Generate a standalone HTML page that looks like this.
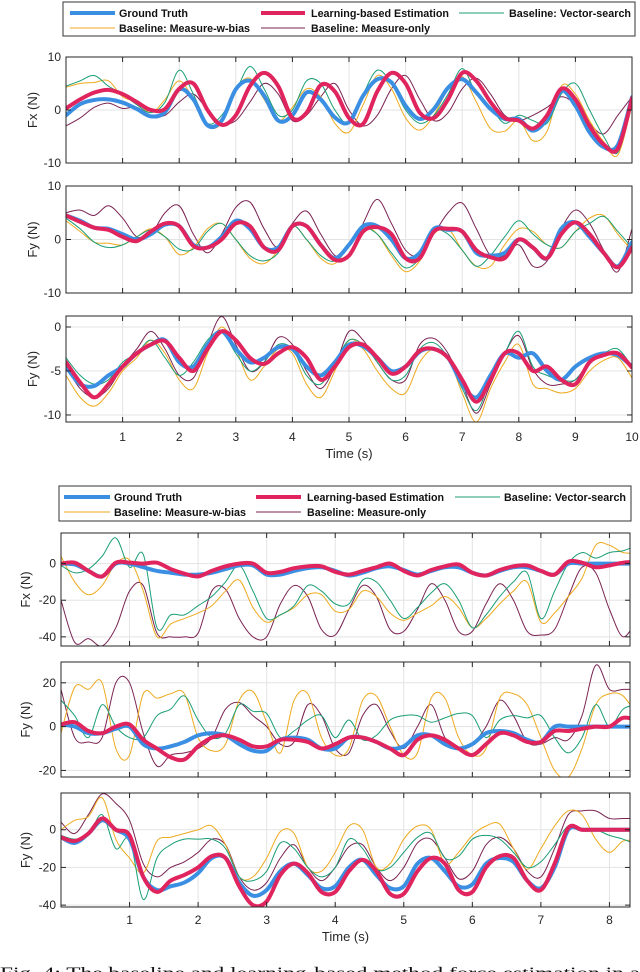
<!DOCTYPE html>
<html><head><meta charset="utf-8"><style>
html,body{margin:0;padding:0;background:#fff;}
svg{display:block;}
text{font-family:"Liberation Sans",sans-serif;}
</style></head><body>
<svg id="chart" width="640" height="972" viewBox="0 0 640 972" xmlns="http://www.w3.org/2000/svg"></svg>
<script>
// ---------- DATA ----------
const topDt = 0.25;
const botDt = 0.2;
const topXTicks = [1,2,3,4,5,6,7,8,9,10];
const botXTicks = [1,2,3,4,5,6,7,8];
const fx1Ticks = [-10,0,10];
const fy1Ticks = [-10,0,10];
const fz1Ticks = [-10,-5,0];
const fx2Ticks = [-40,-20,0];
const fy2Ticks = [-20,0,20];
const fz2Ticks = [-40,-20,0];
const seriesNames = ["Ground Truth","Learning-based Estimation","Baseline: Vector-search","Baseline: Measure-w-bias","Baseline: Measure-only"];

// Top figure, panel 1 (Fx)
const p1Truth = [-1,1.1,1.9,2.0,1.4,0.2,-1.2,-0.4,3.9,2,-2.9,-2,3.9,5.5,2.7,-2,-1,3.3,2,-1.4,-2.3,2.7,5.8,5.2,0.8,-1.7,0.2,4.2,5.8,3.3,0.2,-1.7,-1.7,-3.9,-1.7,3.6,0.8,-4.2,-7,-6.6,2.4];
const p1Est = [0.3,2.0,3.3,3.8,3.0,1.5,0,0.2,4.0,5.0,0,-2.8,-1,4.5,7.0,4.5,-1.5,-0.5,4.7,3.5,-1.5,-2.6,3.5,7.0,5,-0.5,-1.5,2,7,5.5,1.5,-1.5,-2,-3.5,-1,4,2,-3,-6.5,-7.3,2.2];
const p1Vec = [4.5,5.5,6.5,4.5,3,1,-0.5,1.5,7.5,3,-2.5,-1,3.5,8.2,4,-1,0,5.5,5,0,-2.5,3,7.5,5,0,-2.5,-1,3,7.8,3,0.5,-2.5,-1,-2,-2.5,3,5,0,-5,-8,1.5];
const p1Bias = [4.3,5,5.2,5.5,2.5,1.5,-0.5,2,5.5,2,-3,-2.5,4,6,2,-2,0.5,4,2.5,-2.5,-4.2,1,6.5,4,-1.5,-3.8,-1,4,6.3,1.5,-3.5,-4,-2,-5.8,-4,4.5,3,-2,-6,-8.5,1];
const p1Meas = [-3,-1.5,0.5,1.3,0.3,0.5,-1,-1,1.5,3,0,-2.5,-2,1.5,5,3,-2,-1,2.5,5,0,-3,-1,4,6.5,2,-2,-0.5,4,6,3,-1,-2,-1,0.5,2.5,1,-2.5,-4.5,-1,2.5];

// Top figure, panel 2 (Fy)
const p2Truth = [4.5,3.5,2.2,2,1,0,1,2.8,2.5,-1,-1.5,0.5,3.5,2,-1.5,-1.5,2.5,2.5,-1,-3.5,-1,2.5,2.5,0,-3.5,-2.5,2,1.8,1.5,-2.5,-3,-2.5,0,-1.5,-3.5,2,3.2,0.5,-2.5,-5,-0.5];
const p2Est = [4.5,3.3,2.2,1.8,0.5,-0.3,1.5,3,2.5,-1.2,-1.5,0,3,2.5,-1.5,-2,2.5,2.5,-1,-3.8,-3,1.5,2.3,1,-3.5,-3.5,1.5,2,1.5,-2,-3.3,-3.5,0,-1.5,-3.5,1,3.2,1,-2.5,-5.2,-1.5];
const p2Vec = [4,2,-0.5,-1.5,-1,0.5,1.8,0.5,-1.8,-1.8,1.5,3,0,-3,-4,-2.5,2.5,0,-3,-4,-1,2,1,-2.5,-5.3,-3.5,1.5,1,-2,-5,-3,0.5,3.5,1,-1,-1.5,1.5,3,4.3,1.5,-1.5];
const p2Bias = [3.5,1.5,-0.5,-0.7,-1,0.5,2,0.5,-2.8,-1.5,2,3,0,-3.5,-4.5,-2,2.5,0,-3.5,-4.5,-1,2.5,1,-3,-6,-4,1,2,-2,-5,-5,-1,2,1.5,-1,-1.5,1.5,4,4.5,1,-2];
const p2Meas = [5,5.5,4.5,6.3,4,0.5,1,5,6.3,1,-2.5,1,6,7,2,-1.5,3,5.3,1,-3,-3,3,7.5,3,-2,-3,1,5,6.8,2,-3,-3,-1,-5,-4,2,5.5,3,-2,-6,2];

// Top figure, panel 3 (Fy, third)
const p3Truth = [-4.5,-6.5,-6.7,-5.5,-4.5,-3,-2,-1.5,-4,-4.5,-2,-0.5,-2.5,-4,-3.5,-2.3,-2.5,-4.5,-5.5,-4,-2,-2.2,-3.5,-5,-4.5,-2.8,-2.5,-3.5,-6.5,-8,-5.5,-3,-3.5,-3,-5,-6,-4.5,-3.5,-3,-3.2,-4.5];
const p3Est = [-4,-6.3,-8,-6.5,-4.5,-3,-2,-1.6,-3.5,-5,-2.5,-0.5,-1.5,-3.5,-4.2,-3,-2.3,-3.5,-6,-4.5,-2.3,-2,-3.5,-5.3,-4.5,-2.7,-2.5,-3.5,-6,-8.5,-6,-3,-3,-5,-4.5,-6,-6.5,-4,-3.2,-3,-4.6];
const p3Vec = [-3.5,-5.5,-6.5,-6,-4,-3,-1.5,-3.5,-5.5,-4,-1.5,-0.5,-3,-5,-4,-2,-2.5,-5.5,-6.5,-4,-1.5,-2,-4,-6,-5.5,-2.5,-1.8,-3.5,-7,-9.5,-6,-3,-0.5,-4.5,-5.5,-6,-6,-4,-3,-2.5,-4.5];
const p3Bias = [-5.5,-8,-9,-7.5,-5,-3.5,-1.5,-3,-6,-7,-3,0,-2.5,-6,-4.5,-2.5,-3,-6.5,-8,-5,-1.5,-2.5,-5,-7,-7.5,-4,-2.5,-3.5,-7.5,-10.8,-7,-4,-2,-6.5,-7,-7.5,-7,-5,-3.8,-3.5,-5.8];
const p3Meas = [-4.5,-7,-8,-7,-4.5,-2.5,-0.5,-2.5,-5.5,-5.8,-2,1.2,-2,-5,-4,-1.2,-2,-5,-7,-4.5,-0.5,-1.5,-4,-6,-6,-2,-1.3,-3,-6.5,-9.8,-6.5,-3,-1,-4.8,-6.5,-6.5,-6,-4,-3,-3,-4.5];

// Bottom figure, panel 4 (Fx)
const p4Truth = [0,-0.5,-4,-7,0,0,-2,-4,-5,-6,-6,-5,-3,-1,-1,-6,-6,-4,-2.5,-2,-4,-6.5,-5,-2.5,-1.5,-3.5,-6,-4,-2,-2,-5,-6.5,-4,-2,-2,-4,-6,0,0,0,0,0,0];
const p4Est = [0,0.5,-4,-7,0.5,0.5,0,0.5,-3,-5.5,-7,-4,-1.5,0,0,-5,-4.5,-2.5,-1.5,-1.5,-4.5,-6,-4,-2,0,-4,-6.5,-3.5,-1.5,-0.5,-5,-6.5,-3.5,-1.5,-1,-4,-6,1,0.5,-2,-1,0.5,1];
const p4Vec = [-1,-5,-3,4,14,-2,5,-35,-28,-28,-23,-18,-10,-1,-15,-30,-28,-23,-12,-15,-22,-22,-9,-10,-20,-30,-24,-16,-11,-20,-35,-28,-18,-10,-5,-30,-15,0,6,3,6,7,10];
const p4Bias = [4,-10,-17,-12,0,2,-15,-40,-33,-30,-27,-23,-15,-9,-24,-32,-28,-24,-17,-17,-26,-25,-15,-18,-27,-31,-27,-23,-18,-24,-35,-30,-22,-15,-10,-32,-27,-18,-8,10,10,6,6];
const p4Meas = [-20,-43,-41,-45,-35,-15,-12,-38,-40,-40,-38,-15,-14,-30,-40,-40,-22,-12,-18,-36,-39,-25,-12,-18,-36,-37,-25,-11,-20,-37,-37,-22,-11,-20,-37,-39,-36,-18,-2,-5,-25,-40,-30];

// Bottom figure, panel 5 (Fy)
const p5Truth = [1,0,-3,-3,-1,0,-8,-10,-9,-7,-4,-3,-4,-8,-11,-11,-6,-5,-6,-10,-10,-5,-5,-7,-10,-9,-4,-4,-8,-10,-8,-3,-2,-3,-6,-7,0,0,0,0,0,0,0];
const p5Est = [1,2,-2,-3,0,1,-6,-10,-14,-15,-9,-5,-4,-6,-9,-9,-6,-6,-7,-10,-8,-5,-5,-7,-10,-13,-6,-4,-6,-10,-13,-8,-3,-4,-7,-7,-2,-2,-1,0,0,4,3];
const p5Vec = [12,5,-5,10,0,-5,-5,5,8,14,3,-5,-3,10,7,6,-5,-2,3,5,-5,3,-6,-4,3,5,5,2,4,6,5,-5,3,5,4,5,-5,-12,-5,10,0,8,10];
const p5Bias = [-3,18,17,20,-10,-13,15,13,15,15,-5,-11,-8,12,16,2,-12,12,15,-5,-13,-10,12,14,0,-13,-12,13,13,-5,-13,-10,13,15,10,-5,-20,-23,-10,10,15,14,5];
const p5Meas = [17,-5,-7,-5,20,20,-3,-18,-13,-12,-10,-5,8,11,5,0,-8,-7,10,5,-10,-12,5,10,-2,-10,0,10,-5,-10,-8,0,12,5,-7,-8,-5,-6,5,28,17,17,17];

// Bottom figure, panel 6 (Fy, third)
const p6Truth = [-4,-7,-2,5,0,-5,-25,-32,-30,-28,-23,-15,-15,-28,-35,-32,-22,-18,-24,-31,-30,-20,-16,-24,-31,-30,-18,-15,-22,-30,-29,-18,-15,-17,-27,-31,-20,0,0,0,0,0,0];
const p6Est = [-4,-6,-2,6,0,-3,-25,-33,-27,-24,-20,-14,-15,-30,-40,-38,-24,-18,-23,-33,-33,-22,-16,-22,-34,-34,-22,-15,-18,-32,-33,-20,-14,-15,-27,-32,-18,1,0,0,0,0,0];
const p6Vec = [-3,-5,-3,8,-10,-5,-37,-15,-8,-5,-5,-5,-10,-25,-27,-22,-7,-10,-20,-25,-20,-5,-10,-21,-20,-12,-4,-2,-15,-14,-5,-3,-5,-12,-20,-17,-8,2,0,0,-3,-5,-8];
const p6Bias = [0,5,7,17,-5,-15,-23,-6,-4,-2,0,2,-8,-25,-25,-15,-1,-2,-20,-22,-12,2,0,-20,-18,-5,2,0,-18,-12,-3,2,3,-10,-21,-10,2,10,8,-5,-12,-6,-6];
const p6Meas = [4,-2,8,19,14,5,-18,-25,-20,-17,-12,-5,-8,-25,-32,-28,-15,-8,-20,-27,-20,-9,-8,-20,-27,-20,-7,-5,-15,-26,-22,-8,-4,-10,-22,-25,-10,8,10,10,6,6,6];

// ---------- RENDER ----------
const NS = "http://www.w3.org/2000/svg";
const svg = document.getElementById("chart");
const colors = ["#3b8fe3","#e0245e","#1b9e77","#eeaa1f","#7a2352"];
const widths = [4,4,1,1,1];

function mk(tag, attrs, parent){
  const e = document.createElementNS(NS, tag);
  for (const k in attrs) e.setAttribute(k, attrs[k]);
  (parent||svg).appendChild(e);
  return e;
}
function catmull(pts){
  let d = "M" + pts[0][0].toFixed(2) + "," + pts[0][1].toFixed(2);
  for (let i=0;i<pts.length-1;i++){
    const p0 = pts[Math.max(0,i-1)], p1 = pts[i], p2 = pts[i+1], p3 = pts[Math.min(pts.length-1,i+2)];
    const c1x = p1[0]+(p2[0]-p0[0])/6, c1y = p1[1]+(p2[1]-p0[1])/6;
    const c2x = p2[0]-(p3[0]-p1[0])/6, c2y = p2[1]-(p3[1]-p1[1])/6;
    d += "C"+c1x.toFixed(2)+","+c1y.toFixed(2)+" "+c2x.toFixed(2)+","+c2y.toFixed(2)+" "+p2[0].toFixed(2)+","+p2[1].toFixed(2);
  }
  return d;
}

const panels = [
  {id:"top-fx", x0:66,x1:632,y0:57,y1:163,xmin:0,xmax:10,ymin:-10,ymax:10,yt:fx1Ticks,dt:topDt,title:"Fx (N)",tx:37,series:[p1Truth,p1Est,p1Vec,p1Bias,p1Meas],xticks:topXTicks,showX:false},
  {id:"top-fy", x0:66,x1:632,y0:186,y1:293,xmin:0,xmax:10,ymin:-10,ymax:10,yt:fy1Ticks,dt:topDt,title:"Fy (N)",tx:37,series:[p2Truth,p2Est,p2Vec,p2Bias,p2Meas],xticks:topXTicks,showX:false},
  {id:"top-fy2", x0:66,x1:632,y0:316,y1:422,xmin:0,xmax:10,ymin:-10.8,ymax:1.25,yt:fz1Ticks,dt:topDt,title:"Fy (N)",tx:37,series:[p3Truth,p3Est,p3Vec,p3Bias,p3Meas],xticks:topXTicks,showX:true,labelY:441,titleY:458},
  {id:"bottom-fx", x0:61,x1:630,y0:533,y1:646,xmin:0,xmax:8.3,ymin:-45,ymax:16.7,yt:fx2Ticks,dt:botDt,title:"Fx (N)",tx:30,series:[p4Truth,p4Est,p4Vec,p4Bias,p4Meas],xticks:botXTicks,showX:false},
  {id:"bottom-fy", x0:61,x1:630,y0:662,y1:777,xmin:0,xmax:8.3,ymin:-23,ymax:29.5,yt:fy2Ticks,dt:botDt,title:"Fy (N)",tx:30,series:[p5Truth,p5Est,p5Vec,p5Bias,p5Meas],xticks:botXTicks,showX:false},
  {id:"bottom-fy2", x0:61,x1:630,y0:793,y1:907,xmin:0,xmax:8.3,ymin:-41,ymax:19.5,yt:fz2Ticks,dt:botDt,title:"Fy (N)",tx:30,series:[p6Truth,p6Est,p6Vec,p6Bias,p6Meas],xticks:botXTicks,showX:true,labelY:924,titleY:941}
];
const seriesKeys = ["ground-truth","learning-estimation","vector-search","measure-w-bias","measure-only"];

panels.forEach((p,pi)=>{
  const sx = v => p.x0 + (v-p.xmin)/(p.xmax-p.xmin)*(p.x1-p.x0);
  const sy = v => p.y1 - (v-p.ymin)/(p.ymax-p.ymin)*(p.y1-p.y0);
  const g = mk("g",{});
  
  
  // grid
  p.xticks.forEach(t=>{
    const l = mk("line",{x1:sx(t),x2:sx(t),y1:p.y0,y2:p.y1,stroke:"#e3e3e3","stroke-width":1},g);
    
    
  });
  p.yt.forEach(t=>{
    const l = mk("line",{x1:p.x0,x2:p.x1,y1:sy(t),y2:sy(t),stroke:"#e3e3e3","stroke-width":1},g);
    
    
  });
  // clip
  const cid = "clip"+pi;
  const cp = mk("clipPath",{id:cid},g);
  mk("rect",{x:p.x0,y:p.y0,width:p.x1-p.x0,height:p.y1-p.y0},cp);
  const sg = mk("g",{"clip-path":"url(#"+cid+")"},g);
  // draw thin series first, then estimation and truth order as reference (truth under est)
  const order = [4,3,2,0,1];
  order.forEach(si=>{
    const vals = p.series[si];
    const pts = vals.map((v,i)=>[sx(i*p.dt), sy(v)]);
    const path = mk("path",{d:catmull(pts),fill:"none",stroke:colors[si],"stroke-width":widths[si],"stroke-linejoin":"round","stroke-linecap":"round"},sg);
    
    
  });
  // box
  const box = mk("rect",{x:p.x0,y:p.y0,width:p.x1-p.x0,height:p.y1-p.y0,fill:"none",stroke:"#262626","stroke-width":1},g);
  
  
  // ticks
  p.xticks.forEach(t=>{
    mk("line",{x1:sx(t),x2:sx(t),y1:p.y1,y2:p.y1-5,stroke:"#262626","stroke-width":1},g);
    mk("line",{x1:sx(t),x2:sx(t),y1:p.y0,y2:p.y0+5,stroke:"#262626","stroke-width":1},g);
    if (p.showX){
      const tl = mk("text",{x:sx(t),y:p.labelY,"text-anchor":"middle","font-size":12,fill:"#262626"},g);
      tl.textContent = t;
      
      
    }
  });
  p.yt.forEach(t=>{
    mk("line",{x1:p.x0,x2:p.x0+5,y1:sy(t),y2:sy(t),stroke:"#262626","stroke-width":1},g);
    mk("line",{x1:p.x1,x2:p.x1-5,y1:sy(t),y2:sy(t),stroke:"#262626","stroke-width":1},g);
    const tl = mk("text",{x:p.x0-5,y:sy(t)+4,"text-anchor":"end","font-size":12,fill:"#262626"},g);
    tl.textContent = t;
    
    
  });
  const cy = (p.y0+p.y1)/2;
  const yt = mk("text",{x:p.tx,y:cy,"text-anchor":"middle","font-size":13,fill:"#262626",transform:"rotate(-90 "+p.tx+" "+cy+")"},g);
  yt.textContent = p.title;
  
  
  if (p.showX){
    const xt = mk("text",{x:(p.x0+p.x1)/2,y:p.titleY,"text-anchor":"middle","font-size":13,fill:"#262626"},g);
    xt.textContent = "Time (s)";
    
    
  }
});

// legends
const legends = [
  {id:"top-legend", x0:63,x1:635,y0:2,y1:36,r1:13,r2:28,
   entries:[[70,115,119,188],[261,305,311,449],[459,504,509,631],[70,115,119,250],[261,305,311,430]]},
  {id:"bottom-legend", x0:59,x1:631,y0:486,y1:521,r1:497,r2:512,
   entries:[[64,110,114,182],[256,301,307,444],[455,500,504,626],[64,110,114,246],[256,301,307,426]]}
];
legends.forEach(L=>{
  const g = mk("g",{});
  
  
  mk("rect",{x:L.x0,y:L.y0,width:L.x1-L.x0,height:L.y1-L.y0,fill:"#fff",stroke:"#333","stroke-width":1},g);
  L.entries.forEach((e,i)=>{
    const y = i<3 ? L.r1 : L.r2;
    const eg = mk("g",{},g);
    
    
    mk("line",{x1:e[0],x2:e[1],y1:y,y2:y,stroke:colors[i],"stroke-width":widths[i]},eg);
    const t = mk("text",{x:e[2],y:y+4,"font-size":11,"font-weight":"bold",fill:"#111",textLength:e[3]-e[2],lengthAdjust:"spacingAndGlyphs"},eg);
    t.textContent = seriesNames[i];
  });
});

// caption
const cap = mk("text",{x:0,y:978,"font-size":16,fill:"#111",textLength:640,lengthAdjust:"spacingAndGlyphs"});
cap.setAttribute("style","font-family:'Liberation Serif',serif");
cap.textContent = "Fig. 4:   The baseline and learning-based method force estimation in a";


</script>
</body></html>
